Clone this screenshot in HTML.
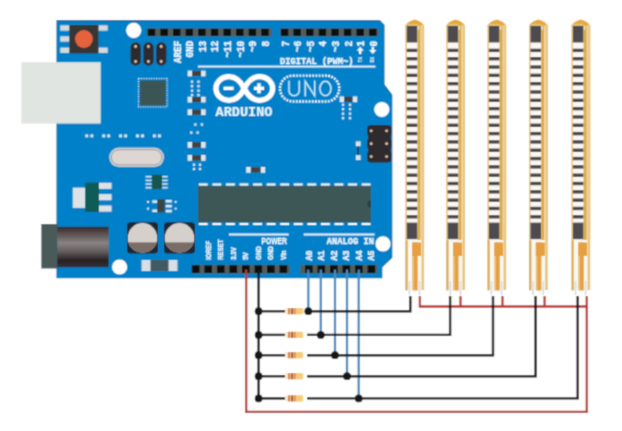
<!DOCTYPE html>
<html><head><meta charset="utf-8"><style>
html,body{margin:0;padding:0;background:#fff;width:622px;height:431px;overflow:hidden}
svg{display:block}
</style></head><body>
<svg width="622" height="431" viewBox="0 0 622 431">
<defs><filter id="soft" x="-2%" y="-2%" width="104%" height="104%"><feConvolveMatrix order="3" kernelMatrix="0.0900 0.3000 0.0900 0.3000 1 0.3000 0.0900 0.3000 0.0900" divisor="2.5600" edgeMode="duplicate" preserveAlpha="true"/></filter></defs>
<rect width="622" height="431" fill="#ffffff"/>
<g filter="url(#soft)">
<rect x="-20" y="-20" width="662" height="471" fill="#ffffff"/>
<path d="M57,20.5 L379.5,20.5 L384,25 L384,84.6 L391.8,94.9 L391.8,257.5 L381.8,267 L381.8,277.8 L57,277.8 Z" fill="#0080c8" stroke="#0d6aa5" stroke-width="1.1"/>
<rect x="21.4" y="62.2" width="79.3" height="61.4" fill="#e0e5e2"/>
<rect x="60.2" y="25.3" width="9.4" height="5.4" fill="#d3dade"/>
<rect x="60.2" y="36.3" width="9.4" height="5.4" fill="#d3dade"/>
<rect x="60.2" y="47.5" width="9.4" height="5.4" fill="#d3dade"/>
<rect x="98.3" y="25.3" width="9.4" height="5.4" fill="#d3dade"/>
<rect x="98.3" y="47.5" width="9.4" height="5.4" fill="#d3dade"/>
<rect x="69.4" y="25" width="29" height="28.4" fill="#383535"/>
<circle cx="83.9" cy="39" r="8.9" fill="#e4623c"/>
<circle cx="133.7" cy="30.3" r="7.6" fill="#ffffff"/>
<circle cx="381.8" cy="109.5" r="7.6" fill="#ffffff"/>
<circle cx="383" cy="243.8" r="7.6" fill="#ffffff"/>
<circle cx="119.6" cy="267" r="7.6" fill="#ffffff"/>
<rect x="130.6" y="42.6" width="10.2" height="22.8" rx="4.5" fill="#2e2a2e"/>
<circle cx="135.6" cy="46.5" r="1.4" fill="#e2c4a4"/>
<circle cx="135.6" cy="61.5" r="1.4" fill="#e2c4a4"/>
<rect x="143.4" y="42.6" width="10.2" height="22.8" rx="4.5" fill="#2e2a2e"/>
<circle cx="148.4" cy="46.5" r="1.4" fill="#e2c4a4"/>
<circle cx="148.4" cy="61.5" r="1.4" fill="#e2c4a4"/>
<rect x="156.2" y="42.6" width="10.2" height="22.8" rx="4.5" fill="#2e2a2e"/>
<circle cx="161.2" cy="46.5" r="1.4" fill="#e2c4a4"/>
<circle cx="161.2" cy="61.5" r="1.4" fill="#e2c4a4"/>
<rect x="368" y="127.5" width="22.6" height="33" fill="#2e2a2e"/>
<rect x="367.2" y="124.90" width="24.2" height="11.8" rx="3.5" fill="#2e2a2e"/>
<circle cx="371.2" cy="130.80" r="1.4" fill="#e2c4a4"/>
<circle cx="386.6" cy="130.80" r="1.4" fill="#e2c4a4"/>
<rect x="367.2" y="137.80" width="24.2" height="11.8" rx="3.5" fill="#2e2a2e"/>
<circle cx="371.2" cy="143.70" r="1.4" fill="#e2c4a4"/>
<circle cx="386.6" cy="143.70" r="1.4" fill="#e2c4a4"/>
<rect x="367.2" y="150.70" width="24.2" height="11.8" rx="3.5" fill="#2e2a2e"/>
<circle cx="371.2" cy="156.60" r="1.4" fill="#e2c4a4"/>
<circle cx="386.6" cy="156.60" r="1.4" fill="#e2c4a4"/>
<rect x="357.4" y="146" width="1.4" height="9.5" fill="#243040"/>
<rect x="146.7" y="28.2" width="125" height="8.2" fill="#525d5c"/>
<rect x="147.80" y="28.8" width="7.4" height="7" fill="#0a0a0c"/>
<rect x="160.41" y="28.8" width="7.4" height="7" fill="#0a0a0c"/>
<rect x="173.02" y="28.8" width="7.4" height="7" fill="#0a0a0c"/>
<rect x="185.63" y="28.8" width="7.4" height="7" fill="#0a0a0c"/>
<rect x="198.24" y="28.8" width="7.4" height="7" fill="#0a0a0c"/>
<rect x="210.85" y="28.8" width="7.4" height="7" fill="#0a0a0c"/>
<rect x="223.46" y="28.8" width="7.4" height="7" fill="#0a0a0c"/>
<rect x="236.07" y="28.8" width="7.4" height="7" fill="#0a0a0c"/>
<rect x="248.68" y="28.8" width="7.4" height="7" fill="#0a0a0c"/>
<rect x="261.29" y="28.8" width="7.4" height="7" fill="#0a0a0c"/>
<rect x="280.2" y="28.2" width="98.2" height="8.2" fill="#525d5c"/>
<rect x="280.90" y="28.8" width="7.4" height="7" fill="#0a0a0c"/>
<rect x="293.50" y="28.8" width="7.4" height="7" fill="#0a0a0c"/>
<rect x="306.10" y="28.8" width="7.4" height="7" fill="#0a0a0c"/>
<rect x="318.70" y="28.8" width="7.4" height="7" fill="#0a0a0c"/>
<rect x="331.30" y="28.8" width="7.4" height="7" fill="#0a0a0c"/>
<rect x="343.90" y="28.8" width="7.4" height="7" fill="#0a0a0c"/>
<rect x="356.50" y="28.8" width="7.4" height="7" fill="#0a0a0c"/>
<rect x="369.10" y="28.8" width="7.4" height="7" fill="#0a0a0c"/>
<rect x="191.5" y="264.8" width="98.2" height="8.8" fill="#525d5c"/>
<rect x="191.90" y="265.3" width="7.6" height="7.6" fill="#0a0a0c"/>
<rect x="204.43" y="265.3" width="7.6" height="7.6" fill="#0a0a0c"/>
<rect x="216.96" y="265.3" width="7.6" height="7.6" fill="#0a0a0c"/>
<rect x="229.49" y="265.3" width="7.6" height="7.6" fill="#0a0a0c"/>
<rect x="242.02" y="265.3" width="7.6" height="7.6" fill="#0a0a0c"/>
<rect x="254.55" y="265.3" width="7.6" height="7.6" fill="#0a0a0c"/>
<rect x="267.08" y="265.3" width="7.6" height="7.6" fill="#0a0a0c"/>
<rect x="279.61" y="265.3" width="7.6" height="7.6" fill="#0a0a0c"/>
<rect x="300.4" y="264.8" width="77" height="8.8" fill="#525d5c"/>
<rect x="305.00" y="265.3" width="7.6" height="7.6" fill="#0a0a0c"/>
<rect x="317.52" y="265.3" width="7.6" height="7.6" fill="#0a0a0c"/>
<rect x="330.04" y="265.3" width="7.6" height="7.6" fill="#0a0a0c"/>
<rect x="342.56" y="265.3" width="7.6" height="7.6" fill="#0a0a0c"/>
<rect x="355.08" y="265.3" width="7.6" height="7.6" fill="#0a0a0c"/>
<rect x="367.60" y="265.3" width="7.6" height="7.6" fill="#0a0a0c"/>
<rect x="140" y="80.5" width="25.7" height="25" fill="#3b5454"/>
<rect x="138.5" y="78.6" width="28.6" height="28.2" fill="none" stroke="#bfe0f0" stroke-width="1.2" stroke-dasharray="1.3,1.2"/>
<rect x="198" y="185.8" width="172.9" height="36.6" fill="#3c5757"/>
<path d="M370.9,200.5 A3.5,3.5 0 0 0 370.9,207.5 Z" fill="#2f3c3c"/>
<rect x="198.80" y="183.4" width="8.9" height="2.2" fill="#f4f8fa"/>
<rect x="198.80" y="222.9" width="8.9" height="2.2" fill="#f4f8fa"/>
<rect x="212.37" y="183.4" width="8.9" height="2.2" fill="#f4f8fa"/>
<rect x="212.37" y="222.9" width="8.9" height="2.2" fill="#f4f8fa"/>
<rect x="225.94" y="183.4" width="8.9" height="2.2" fill="#f4f8fa"/>
<rect x="225.94" y="222.9" width="8.9" height="2.2" fill="#f4f8fa"/>
<rect x="239.51" y="183.4" width="8.9" height="2.2" fill="#f4f8fa"/>
<rect x="239.51" y="222.9" width="8.9" height="2.2" fill="#f4f8fa"/>
<rect x="253.08" y="183.4" width="8.9" height="2.2" fill="#f4f8fa"/>
<rect x="253.08" y="222.9" width="8.9" height="2.2" fill="#f4f8fa"/>
<rect x="266.65" y="183.4" width="8.9" height="2.2" fill="#f4f8fa"/>
<rect x="266.65" y="222.9" width="8.9" height="2.2" fill="#f4f8fa"/>
<rect x="280.22" y="183.4" width="8.9" height="2.2" fill="#f4f8fa"/>
<rect x="280.22" y="222.9" width="8.9" height="2.2" fill="#f4f8fa"/>
<rect x="293.79" y="183.4" width="8.9" height="2.2" fill="#f4f8fa"/>
<rect x="293.79" y="222.9" width="8.9" height="2.2" fill="#f4f8fa"/>
<rect x="307.36" y="183.4" width="8.9" height="2.2" fill="#f4f8fa"/>
<rect x="307.36" y="222.9" width="8.9" height="2.2" fill="#f4f8fa"/>
<rect x="320.93" y="183.4" width="8.9" height="2.2" fill="#f4f8fa"/>
<rect x="320.93" y="222.9" width="8.9" height="2.2" fill="#f4f8fa"/>
<rect x="334.50" y="183.4" width="8.9" height="2.2" fill="#f4f8fa"/>
<rect x="334.50" y="222.9" width="8.9" height="2.2" fill="#f4f8fa"/>
<rect x="348.07" y="183.4" width="8.9" height="2.2" fill="#f4f8fa"/>
<rect x="348.07" y="222.9" width="8.9" height="2.2" fill="#f4f8fa"/>
<rect x="361.64" y="183.4" width="8.9" height="2.2" fill="#f4f8fa"/>
<rect x="361.64" y="222.9" width="8.9" height="2.2" fill="#f4f8fa"/>
<rect x="109.2" y="147.6" width="54.8" height="19.4" rx="9.7" fill="#c9d0d4"/>
<rect x="111.3" y="149.7" width="50.6" height="15.2" rx="7.6" fill="#ddd6d2" stroke="#9c9ca4" stroke-width="1"/>
<rect x="72.7" y="187.6" width="12.5" height="20.3" fill="#dce2e6"/>
<rect x="85.2" y="182.7" width="13.8" height="29.3" fill="#0f5b58"/>
<rect x="99" y="182.7" width="12.6" height="6.2" fill="#dce2e6"/>
<rect x="99" y="194.1" width="12.6" height="6.2" fill="#dce2e6"/>
<rect x="99" y="205.5" width="12.6" height="6.2" fill="#dce2e6"/>
<rect x="151.7" y="174.8" width="10.4" height="14.2" fill="#18564f"/>
<rect x="145.5" y="175.9" width="6.2" height="1.6" fill="#cfe3ee"/>
<rect x="162.1" y="175.9" width="5.6" height="1.6" fill="#cfe3ee"/>
<rect x="145.5" y="179.6" width="6.2" height="1.6" fill="#cfe3ee"/>
<rect x="162.1" y="179.6" width="5.6" height="1.6" fill="#cfe3ee"/>
<rect x="145.5" y="183.2" width="6.2" height="1.6" fill="#cfe3ee"/>
<rect x="162.1" y="183.2" width="5.6" height="1.6" fill="#cfe3ee"/>
<rect x="145.5" y="186.9" width="6.2" height="1.6" fill="#cfe3ee"/>
<rect x="162.1" y="186.9" width="5.6" height="1.6" fill="#cfe3ee"/>
<rect x="157.2" y="199.4" width="7.4" height="12.9" fill="#3e4242"/>
<rect x="152.3" y="200.3" width="4.9" height="2.6" fill="#dbeaf3"/>
<rect x="152.3" y="209.5" width="4.9" height="2.6" fill="#dbeaf3"/>
<rect x="165.6" y="199.9" width="6.2" height="2.6" fill="#dbeaf3"/>
<rect x="165.6" y="204.9" width="6.2" height="2.6" fill="#dbeaf3"/>
<rect x="165.6" y="209.8" width="6.2" height="2.6" fill="#dbeaf3"/>
<rect x="147" y="200.9" width="2" height="2" fill="#cfe6f3"/>
<rect x="147" y="207.6" width="2" height="2" fill="#cfe6f3"/>
<rect x="174.6" y="200.9" width="2" height="2" fill="#cfe6f3"/>
<rect x="174.6" y="207.6" width="2" height="2" fill="#cfe6f3"/>
<rect x="127.0" y="222.3" width="31" height="31.2" rx="3.5" fill="#1c2634"/>
<clipPath id="c142"><circle cx="142.5" cy="237.9" r="14.8"/></clipPath>
<g clip-path="url(#c142)"><rect x="127.5" y="222" width="30" height="31" fill="#d6d0cc"/><rect x="127.5" y="242.4" width="30" height="12" fill="#7a6d66"/></g>
<rect x="164.0" y="222.3" width="31" height="31.2" rx="3.5" fill="#1c2634"/>
<clipPath id="c179"><circle cx="179.5" cy="237.9" r="14.8"/></clipPath>
<g clip-path="url(#c179)"><rect x="164.5" y="222" width="30" height="31" fill="#d6d0cc"/><rect x="164.5" y="242.4" width="30" height="12" fill="#7a6d66"/></g>
<rect x="41.3" y="224" width="16" height="44.5" fill="#4a5a58"/>
<defs><linearGradient id="jack" x1="0" y1="0" x2="0" y2="1"><stop offset="0" stop-color="#2a2c34"/><stop offset="0.08" stop-color="#4a3a3a"/><stop offset="0.4" stop-color="#878383"/><stop offset="0.6" stop-color="#666060"/><stop offset="0.83" stop-color="#2a2020"/><stop offset="1" stop-color="#33303a"/></linearGradient></defs>
<rect x="57.3" y="226.8" width="51.4" height="40.4" fill="url(#jack)"/>
<rect x="141.5" y="260" width="36" height="11" fill="#3f5a5f"/>
<rect x="141.5" y="260" width="9" height="11" fill="#d6e0e6"/>
<rect x="168.5" y="260" width="9" height="11" fill="#d6e0e6"/>
<rect x="85.3" y="134.4" width="3" height="3" fill="#cfe6f3"/>
<rect x="90.3" y="134.4" width="3" height="3" fill="#cfe6f3"/>
<rect x="102.2" y="134.4" width="3" height="3" fill="#cfe6f3"/>
<rect x="107.2" y="134.4" width="3" height="3" fill="#cfe6f3"/>
<rect x="119.1" y="134.4" width="3" height="3" fill="#cfe6f3"/>
<rect x="124.1" y="134.4" width="3" height="3" fill="#cfe6f3"/>
<rect x="136.0" y="134.4" width="3" height="3" fill="#cfe6f3"/>
<rect x="141.0" y="134.4" width="3" height="3" fill="#cfe6f3"/>
<rect x="152.9" y="134.4" width="3" height="3" fill="#cfe6f3"/>
<rect x="157.9" y="134.4" width="3" height="3" fill="#cfe6f3"/>
<rect x="192.1" y="71.0" width="9.0" height="5.0" fill="#45413e"/>
<rect x="187.6" y="70.6" width="4.5" height="5.8" fill="#dde8ee"/>
<rect x="201.1" y="70.6" width="4.5" height="5.8" fill="#dde8ee"/>
<rect x="192.1" y="97.1" width="9.0" height="5.0" fill="#45413e"/>
<rect x="187.6" y="96.69999999999999" width="4.5" height="5.8" fill="#dde8ee"/>
<rect x="201.1" y="96.69999999999999" width="4.5" height="5.8" fill="#dde8ee"/>
<rect x="192.1" y="109.7" width="9.0" height="5.0" fill="#45413e"/>
<rect x="187.6" y="109.3" width="4.5" height="5.8" fill="#dde8ee"/>
<rect x="201.1" y="109.3" width="4.5" height="5.8" fill="#dde8ee"/>
<rect x="192.1" y="142.4" width="9.0" height="5.0" fill="#45413e"/>
<rect x="187.6" y="142.0" width="4.5" height="5.8" fill="#dde8ee"/>
<rect x="201.1" y="142.0" width="4.5" height="5.8" fill="#dde8ee"/>
<rect x="192.1" y="155.4" width="9.0" height="5.0" fill="#45413e"/>
<rect x="187.6" y="155.0" width="4.5" height="5.8" fill="#dde8ee"/>
<rect x="201.1" y="155.0" width="4.5" height="5.8" fill="#dde8ee"/>
<rect x="250.7" y="167.4" width="10.0" height="5.0" fill="#45413e"/>
<rect x="246.2" y="167.0" width="4.5" height="5.8" fill="#dde8ee"/>
<rect x="260.7" y="167.0" width="4.5" height="5.8" fill="#dde8ee"/>
<rect x="344.1" y="96.8" width="8.600000000000001" height="5.0" fill="#45413e"/>
<rect x="339.6" y="96.39999999999999" width="4.5" height="5.8" fill="#dde8ee"/>
<rect x="352.70000000000005" y="96.39999999999999" width="4.5" height="5.8" fill="#dde8ee"/>
<rect x="355.8" y="141.4" width="4.8" height="4.8" fill="#dde6ea"/>
<rect x="355.8" y="155.2" width="4.8" height="4.8" fill="#dde6ea"/>
<rect x="194.20000000000002" y="123.3" width="2.4" height="2.4" fill="#cfe6f3"/>
<rect x="200.70000000000002" y="123.3" width="2.4" height="2.4" fill="#cfe6f3"/>
<rect x="190.10000000000002" y="131.4" width="2.4" height="2.4" fill="#cfe6f3"/>
<rect x="196.4" y="131.4" width="2.4" height="2.4" fill="#cfe6f3"/>
<rect x="192.8" y="163.5" width="2.4" height="2.4" fill="#cfe6f3"/>
<rect x="198.8" y="163.5" width="2.4" height="2.4" fill="#cfe6f3"/>
<rect x="192.8" y="167.8" width="2.4" height="2.4" fill="#cfe6f3"/>
<rect x="198.8" y="167.8" width="2.4" height="2.4" fill="#cfe6f3"/>
<rect x="190.8" y="80.5" width="2.4" height="2.4" fill="#cfe6f3"/><rect x="197.3" y="80.5" width="2.4" height="2.4" fill="#cfe6f3"/>
<rect x="190.8" y="85" width="2.4" height="2.4" fill="#cfe6f3"/><rect x="197.3" y="85" width="2.4" height="2.4" fill="#cfe6f3"/>
<rect x="190.8" y="89.5" width="2.4" height="2.4" fill="#cfe6f3"/><rect x="197.3" y="89.5" width="2.4" height="2.4" fill="#cfe6f3"/>
<rect x="190.8" y="94" width="2.4" height="2.4" fill="#cfe6f3"/><rect x="197.3" y="94" width="2.4" height="2.4" fill="#cfe6f3"/>
<rect x="341.8" y="103.5" width="2.4" height="2.4" fill="#cfe6f3"/><rect x="348.8" y="103.5" width="2.4" height="2.4" fill="#cfe6f3"/>
<rect x="341.8" y="108" width="2.4" height="2.4" fill="#cfe6f3"/><rect x="348.8" y="108" width="2.4" height="2.4" fill="#cfe6f3"/>
<rect x="341.8" y="112.5" width="2.4" height="2.4" fill="#cfe6f3"/><rect x="348.8" y="112.5" width="2.4" height="2.4" fill="#cfe6f3"/>
<rect x="341.8" y="117" width="2.4" height="2.4" fill="#cfe6f3"/><rect x="348.8" y="117" width="2.4" height="2.4" fill="#cfe6f3"/>
<rect x="198" y="65.6" width="177.5" height="1.9" fill="#e6f3fb"/>
<rect x="229" y="233.5" width="59.7" height="2" fill="#e6f3fb"/>
<rect x="303.6" y="233.5" width="71" height="2" fill="#e6f3fb"/>
<path d="M244.3,88.5 C241.8,83.5 236.5,76.7 228.9,76.7 A13,11.8 0 0 0 228.9,100.3 C236.5,100.3 241.8,93.5 244.3,88.5 C246.8,83.5 252.1,76.7 259.7,76.7 A13,11.8 0 0 1 259.7,100.3 C252.1,100.3 246.8,93.5 244.3,88.5 Z" fill="none" stroke="#ffffff" stroke-width="5.2"/>
<rect x="223.5" y="86.6" width="10.1" height="3.4" fill="#ffffff"/>
<rect x="254" y="86.6" width="10" height="3.4" fill="#ffffff"/>
<rect x="257.3" y="83.3" width="3.4" height="10" fill="#ffffff"/>
<text x="215.6" y="116.2" font-family="Liberation Mono" font-weight="bold" font-size="13" fill="#e8f7fd" stroke="#e8f7fd" stroke-width="0.15" textLength="56.8" lengthAdjust="spacingAndGlyphs">ARDUINO</text>
<rect x="280" y="75.6" width="59.3" height="25.9" rx="12.95" fill="none" stroke="#e6f6fd" stroke-width="2.4" stroke-dasharray="2,1.2"/>
<path d="M289,80.6 V90.7 A5.1,5.1 0 0 0 299.2,90.7 V80.6 M305.2,96.5 V81.3 L314.7,95.8 V80.6" fill="none" stroke="#c8ecfc" stroke-width="1.5"/>
<ellipse cx="325.4" cy="88.55" rx="5.55" ry="7.2" fill="none" stroke="#c8ecfc" stroke-width="1.5"/>
<text x="280" y="63.8" font-family="Liberation Mono" font-weight="bold" font-size="9.6" fill="#eef8fd" stroke="#eef8fd" stroke-width="0.35" textLength="73.6" lengthAdjust="spacingAndGlyphs">DIGITAL (PWM~)</text>
<text x="326.8" y="244.2" font-family="Liberation Mono" font-weight="bold" font-size="9.6" fill="#eef8fd" stroke="#eef8fd" stroke-width="0.35" textLength="47.2" lengthAdjust="spacingAndGlyphs">ANALOG IN</text>
<text x="261.5" y="244.3" font-family="Liberation Sans" font-weight="bold" font-size="9" fill="#eef8fd" stroke="#eef8fd" stroke-width="0.3" textLength="25.3" lengthAdjust="spacingAndGlyphs">POWER</text>
<text transform="translate(180.62,40.8) rotate(-90) scale(0.93,1)" text-anchor="end" font-family="Liberation Mono" font-weight="bold" font-size="10" fill="#eef8fd" stroke="#eef8fd" stroke-width="0.35">AREF</text>
<text transform="translate(193.23,40.8) rotate(-90) scale(0.93,1)" text-anchor="end" font-family="Liberation Mono" font-weight="bold" font-size="10" fill="#eef8fd" stroke="#eef8fd" stroke-width="0.35">GND</text>
<text transform="translate(205.84,40.8) rotate(-90) scale(0.93,1)" text-anchor="end" font-family="Liberation Mono" font-weight="bold" font-size="10" fill="#eef8fd" stroke="#eef8fd" stroke-width="0.35">13</text>
<text transform="translate(218.45,40.8) rotate(-90) scale(0.93,1)" text-anchor="end" font-family="Liberation Mono" font-weight="bold" font-size="10" fill="#eef8fd" stroke="#eef8fd" stroke-width="0.35">12</text>
<text transform="translate(231.06,40.8) rotate(-90) scale(0.93,1)" text-anchor="end" font-family="Liberation Mono" font-weight="bold" font-size="10" fill="#eef8fd" stroke="#eef8fd" stroke-width="0.35">~11</text>
<text transform="translate(243.67,40.8) rotate(-90) scale(0.93,1)" text-anchor="end" font-family="Liberation Mono" font-weight="bold" font-size="10" fill="#eef8fd" stroke="#eef8fd" stroke-width="0.35">~10</text>
<text transform="translate(256.28,40.8) rotate(-90) scale(0.93,1)" text-anchor="end" font-family="Liberation Mono" font-weight="bold" font-size="10" fill="#eef8fd" stroke="#eef8fd" stroke-width="0.35">~9</text>
<text transform="translate(268.89,40.8) rotate(-90) scale(0.93,1)" text-anchor="end" font-family="Liberation Mono" font-weight="bold" font-size="10" fill="#eef8fd" stroke="#eef8fd" stroke-width="0.35">8</text>
<text transform="translate(288.50,40.8) rotate(-90) scale(0.93,1)" text-anchor="end" font-family="Liberation Mono" font-weight="bold" font-size="10" fill="#eef8fd" stroke="#eef8fd" stroke-width="0.35">7</text>
<text transform="translate(301.10,40.8) rotate(-90) scale(0.93,1)" text-anchor="end" font-family="Liberation Mono" font-weight="bold" font-size="10" fill="#eef8fd" stroke="#eef8fd" stroke-width="0.35">~6</text>
<text transform="translate(313.70,40.8) rotate(-90) scale(0.93,1)" text-anchor="end" font-family="Liberation Mono" font-weight="bold" font-size="10" fill="#eef8fd" stroke="#eef8fd" stroke-width="0.35">~5</text>
<text transform="translate(326.30,40.8) rotate(-90) scale(0.93,1)" text-anchor="end" font-family="Liberation Mono" font-weight="bold" font-size="10" fill="#eef8fd" stroke="#eef8fd" stroke-width="0.35">4</text>
<text transform="translate(338.90,40.8) rotate(-90) scale(0.93,1)" text-anchor="end" font-family="Liberation Mono" font-weight="bold" font-size="10" fill="#eef8fd" stroke="#eef8fd" stroke-width="0.35">~3</text>
<text transform="translate(351.50,40.8) rotate(-90) scale(0.93,1)" text-anchor="end" font-family="Liberation Mono" font-weight="bold" font-size="10" fill="#eef8fd" stroke="#eef8fd" stroke-width="0.35">2</text>
<text transform="translate(364.10,40.8) rotate(-90) scale(0.93,1)" text-anchor="end" font-family="Liberation Mono" font-weight="bold" font-size="10" fill="#eef8fd" stroke="#eef8fd" stroke-width="0.35">1</text>
<path d="M360.20000000000005,46.8 L356.6,50.8 L359.00000000000006,50.8 L359.00000000000006,54 L361.40000000000003,54 L361.40000000000003,50.8 L363.80000000000007,50.8 Z" fill="#eef8fd"/>
<text transform="translate(361.80,62.5) rotate(-90)" text-anchor="start" font-family="Liberation Mono" font-weight="bold" font-size="4.5" fill="#eef8fd">TX</text>
<text transform="translate(376.70,40.8) rotate(-90) scale(0.93,1)" text-anchor="end" font-family="Liberation Mono" font-weight="bold" font-size="10" fill="#eef8fd" stroke="#eef8fd" stroke-width="0.35">0</text>
<path d="M372.8,54 L369.2,50 L371.6,50 L371.6,46.8 L374.0,46.8 L374.0,50 L376.40000000000003,50 Z" fill="#eef8fd"/>
<text transform="translate(374.40,62.5) rotate(-90)" text-anchor="start" font-family="Liberation Mono" font-weight="bold" font-size="4.5" fill="#eef8fd">RX</text>
<text transform="translate(210.83,259.8) rotate(-90) scale(0.85,1)" text-anchor="start" font-family="Liberation Sans" font-weight="bold" font-size="7.2" fill="#eef8fd" stroke="#eef8fd" stroke-width="0.35">IOREF</text>
<text transform="translate(223.36,259.8) rotate(-90) scale(0.85,1)" text-anchor="start" font-family="Liberation Sans" font-weight="bold" font-size="7.2" fill="#eef8fd" stroke="#eef8fd" stroke-width="0.35">RESET</text>
<text transform="translate(235.89,259.8) rotate(-90) scale(0.85,1)" text-anchor="start" font-family="Liberation Sans" font-weight="bold" font-size="7.2" fill="#eef8fd" stroke="#eef8fd" stroke-width="0.35">3.3V</text>
<text transform="translate(248.42,259.8) rotate(-90) scale(0.85,1)" text-anchor="start" font-family="Liberation Sans" font-weight="bold" font-size="7.2" fill="#eef8fd" stroke="#eef8fd" stroke-width="0.35">5V</text>
<text transform="translate(260.95,259.8) rotate(-90) scale(0.85,1)" text-anchor="start" font-family="Liberation Sans" font-weight="bold" font-size="7.2" fill="#eef8fd" stroke="#eef8fd" stroke-width="0.35">GND</text>
<text transform="translate(273.48,259.8) rotate(-90) scale(0.85,1)" text-anchor="start" font-family="Liberation Sans" font-weight="bold" font-size="7.2" fill="#eef8fd" stroke="#eef8fd" stroke-width="0.35">GND</text>
<text transform="translate(286.01,259.8) rotate(-90) scale(0.85,1)" text-anchor="start" font-family="Liberation Sans" font-weight="bold" font-size="7.2" fill="#eef8fd" stroke="#eef8fd" stroke-width="0.35">Vin</text>
<text transform="translate(311.80,260.4) rotate(-90) scale(0.95,1)" text-anchor="start" font-family="Liberation Mono" font-weight="bold" font-size="8.8" fill="#eef8fd" stroke="#eef8fd" stroke-width="0.35">A0</text>
<text transform="translate(324.32,260.4) rotate(-90) scale(0.95,1)" text-anchor="start" font-family="Liberation Mono" font-weight="bold" font-size="8.8" fill="#eef8fd" stroke="#eef8fd" stroke-width="0.35">A1</text>
<text transform="translate(336.84,260.4) rotate(-90) scale(0.95,1)" text-anchor="start" font-family="Liberation Mono" font-weight="bold" font-size="8.8" fill="#eef8fd" stroke="#eef8fd" stroke-width="0.35">A2</text>
<text transform="translate(349.36,260.4) rotate(-90) scale(0.95,1)" text-anchor="start" font-family="Liberation Mono" font-weight="bold" font-size="8.8" fill="#eef8fd" stroke="#eef8fd" stroke-width="0.35">A3</text>
<text transform="translate(361.88,260.4) rotate(-90) scale(0.95,1)" text-anchor="start" font-family="Liberation Mono" font-weight="bold" font-size="8.8" fill="#eef8fd" stroke="#eef8fd" stroke-width="0.35">A4</text>
<text transform="translate(374.40,260.4) rotate(-90) scale(0.95,1)" text-anchor="start" font-family="Liberation Mono" font-weight="bold" font-size="8.8" fill="#eef8fd" stroke="#eef8fd" stroke-width="0.35">A5</text>
<rect x="405.3" y="24" width="18.8" height="266.5" fill="#fbf7f2"/>
<path d="M405.5,26.5 C405.7,22.8 410.7,20.8 414.7,19.6 C418.7,20.8 423.70000000000005,22.8 423.90000000000003,26.5 Z" fill="#e4aa36"/>
<rect x="406.90000000000003" y="24.6" width="10.5" height="1" fill="#f6e8cc"/>
<rect x="405.3" y="25" width="1.5" height="215" fill="#ebc478"/>
<rect x="406.7" y="25.8" width="10.8" height="16.7" fill="#4e4c50"/>
<rect x="406.7" y="48.70" width="10.8" height="3.4" fill="#46444a"/>
<rect x="406.7" y="57.02" width="10.8" height="3.4" fill="#46444a"/>
<rect x="406.7" y="65.34" width="10.8" height="3.4" fill="#46444a"/>
<rect x="406.7" y="73.66" width="10.8" height="3.4" fill="#46444a"/>
<rect x="406.7" y="81.98" width="10.8" height="3.4" fill="#46444a"/>
<rect x="406.7" y="90.30" width="10.8" height="3.4" fill="#46444a"/>
<rect x="406.7" y="98.62" width="10.8" height="3.4" fill="#46444a"/>
<rect x="406.7" y="106.94" width="10.8" height="3.4" fill="#46444a"/>
<rect x="406.7" y="115.26" width="10.8" height="3.4" fill="#46444a"/>
<rect x="406.7" y="123.58" width="10.8" height="3.4" fill="#46444a"/>
<rect x="406.7" y="131.90" width="10.8" height="3.4" fill="#46444a"/>
<rect x="406.7" y="140.22" width="10.8" height="3.4" fill="#46444a"/>
<rect x="406.7" y="148.54" width="10.8" height="3.4" fill="#46444a"/>
<rect x="406.7" y="156.86" width="10.8" height="3.4" fill="#46444a"/>
<rect x="406.7" y="165.18" width="10.8" height="3.4" fill="#46444a"/>
<rect x="406.7" y="173.50" width="10.8" height="3.4" fill="#46444a"/>
<rect x="406.7" y="181.82" width="10.8" height="3.4" fill="#46444a"/>
<rect x="406.7" y="190.14" width="10.8" height="3.4" fill="#46444a"/>
<rect x="406.7" y="198.46" width="10.8" height="3.4" fill="#46444a"/>
<rect x="406.7" y="206.78" width="10.8" height="3.4" fill="#46444a"/>
<rect x="406.7" y="215.10" width="10.8" height="3.4" fill="#46444a"/>
<rect x="406.7" y="222.6" width="10.8" height="16.6" fill="#4e4c50"/>
<rect x="417.5" y="25" width="3.2" height="215" fill="#d9ac4c"/>
<rect x="417.7" y="25.6" width="1.4" height="4" fill="#f5e6c8"/>
<rect x="420.7" y="25" width="3.4000000000000004" height="215" fill="#f3d29c"/>
<rect x="422.6" y="25" width="1.5" height="215" fill="#e8c070"/>
<rect x="405.3" y="240" width="2.4" height="50.5" rx="0.8" fill="#d9ad55"/>
<rect x="412.1" y="242.5" width="1.4" height="48" fill="#e9c070"/>
<rect x="412.1" y="242.5" width="9" height="13.5" fill="#e6a040"/>
<rect x="413.5" y="242.5" width="4.2" height="48" fill="#e6a040"/>
<rect x="421.5" y="240" width="2.6000000000000014" height="50" fill="#e9c57a"/>
<rect x="408.5" y="281" width="1.8" height="14" fill="#dcdee6"/>
<rect x="418.6" y="281" width="1.8" height="14" fill="#dcdee6"/>
<rect x="446.2" y="24" width="18.8" height="266.5" fill="#fbf7f2"/>
<path d="M446.4,26.5 C446.59999999999997,22.8 451.59999999999997,20.8 455.59999999999997,19.6 C459.59999999999997,20.8 464.6,22.8 464.8,26.5 Z" fill="#e4aa36"/>
<rect x="447.8" y="24.6" width="10.5" height="1" fill="#f6e8cc"/>
<rect x="446.2" y="25" width="1.5" height="215" fill="#ebc478"/>
<rect x="447.59999999999997" y="25.8" width="10.8" height="16.7" fill="#4e4c50"/>
<rect x="447.59999999999997" y="48.70" width="10.8" height="3.4" fill="#46444a"/>
<rect x="447.59999999999997" y="57.02" width="10.8" height="3.4" fill="#46444a"/>
<rect x="447.59999999999997" y="65.34" width="10.8" height="3.4" fill="#46444a"/>
<rect x="447.59999999999997" y="73.66" width="10.8" height="3.4" fill="#46444a"/>
<rect x="447.59999999999997" y="81.98" width="10.8" height="3.4" fill="#46444a"/>
<rect x="447.59999999999997" y="90.30" width="10.8" height="3.4" fill="#46444a"/>
<rect x="447.59999999999997" y="98.62" width="10.8" height="3.4" fill="#46444a"/>
<rect x="447.59999999999997" y="106.94" width="10.8" height="3.4" fill="#46444a"/>
<rect x="447.59999999999997" y="115.26" width="10.8" height="3.4" fill="#46444a"/>
<rect x="447.59999999999997" y="123.58" width="10.8" height="3.4" fill="#46444a"/>
<rect x="447.59999999999997" y="131.90" width="10.8" height="3.4" fill="#46444a"/>
<rect x="447.59999999999997" y="140.22" width="10.8" height="3.4" fill="#46444a"/>
<rect x="447.59999999999997" y="148.54" width="10.8" height="3.4" fill="#46444a"/>
<rect x="447.59999999999997" y="156.86" width="10.8" height="3.4" fill="#46444a"/>
<rect x="447.59999999999997" y="165.18" width="10.8" height="3.4" fill="#46444a"/>
<rect x="447.59999999999997" y="173.50" width="10.8" height="3.4" fill="#46444a"/>
<rect x="447.59999999999997" y="181.82" width="10.8" height="3.4" fill="#46444a"/>
<rect x="447.59999999999997" y="190.14" width="10.8" height="3.4" fill="#46444a"/>
<rect x="447.59999999999997" y="198.46" width="10.8" height="3.4" fill="#46444a"/>
<rect x="447.59999999999997" y="206.78" width="10.8" height="3.4" fill="#46444a"/>
<rect x="447.59999999999997" y="215.10" width="10.8" height="3.4" fill="#46444a"/>
<rect x="447.59999999999997" y="222.6" width="10.8" height="16.6" fill="#4e4c50"/>
<rect x="458.4" y="25" width="3.2" height="215" fill="#d9ac4c"/>
<rect x="458.59999999999997" y="25.6" width="1.4" height="4" fill="#f5e6c8"/>
<rect x="461.59999999999997" y="25" width="3.4000000000000004" height="215" fill="#f3d29c"/>
<rect x="463.5" y="25" width="1.5" height="215" fill="#e8c070"/>
<rect x="446.2" y="240" width="2.4" height="50.5" rx="0.8" fill="#d9ad55"/>
<rect x="453.0" y="242.5" width="1.4" height="48" fill="#e9c070"/>
<rect x="453.0" y="242.5" width="9" height="13.5" fill="#e6a040"/>
<rect x="454.4" y="242.5" width="4.2" height="48" fill="#e6a040"/>
<rect x="462.4" y="240" width="2.6000000000000014" height="50" fill="#e9c57a"/>
<rect x="449.4" y="281" width="1.8" height="14" fill="#dcdee6"/>
<rect x="459.5" y="281" width="1.8" height="14" fill="#dcdee6"/>
<rect x="487.4" y="24" width="18.8" height="266.5" fill="#fbf7f2"/>
<path d="M487.59999999999997,26.5 C487.79999999999995,22.8 492.79999999999995,20.8 496.79999999999995,19.6 C500.79999999999995,20.8 505.8,22.8 506.0,26.5 Z" fill="#e4aa36"/>
<rect x="489.0" y="24.6" width="10.5" height="1" fill="#f6e8cc"/>
<rect x="487.4" y="25" width="1.5" height="215" fill="#ebc478"/>
<rect x="488.79999999999995" y="25.8" width="10.8" height="16.7" fill="#4e4c50"/>
<rect x="488.79999999999995" y="48.70" width="10.8" height="3.4" fill="#46444a"/>
<rect x="488.79999999999995" y="57.02" width="10.8" height="3.4" fill="#46444a"/>
<rect x="488.79999999999995" y="65.34" width="10.8" height="3.4" fill="#46444a"/>
<rect x="488.79999999999995" y="73.66" width="10.8" height="3.4" fill="#46444a"/>
<rect x="488.79999999999995" y="81.98" width="10.8" height="3.4" fill="#46444a"/>
<rect x="488.79999999999995" y="90.30" width="10.8" height="3.4" fill="#46444a"/>
<rect x="488.79999999999995" y="98.62" width="10.8" height="3.4" fill="#46444a"/>
<rect x="488.79999999999995" y="106.94" width="10.8" height="3.4" fill="#46444a"/>
<rect x="488.79999999999995" y="115.26" width="10.8" height="3.4" fill="#46444a"/>
<rect x="488.79999999999995" y="123.58" width="10.8" height="3.4" fill="#46444a"/>
<rect x="488.79999999999995" y="131.90" width="10.8" height="3.4" fill="#46444a"/>
<rect x="488.79999999999995" y="140.22" width="10.8" height="3.4" fill="#46444a"/>
<rect x="488.79999999999995" y="148.54" width="10.8" height="3.4" fill="#46444a"/>
<rect x="488.79999999999995" y="156.86" width="10.8" height="3.4" fill="#46444a"/>
<rect x="488.79999999999995" y="165.18" width="10.8" height="3.4" fill="#46444a"/>
<rect x="488.79999999999995" y="173.50" width="10.8" height="3.4" fill="#46444a"/>
<rect x="488.79999999999995" y="181.82" width="10.8" height="3.4" fill="#46444a"/>
<rect x="488.79999999999995" y="190.14" width="10.8" height="3.4" fill="#46444a"/>
<rect x="488.79999999999995" y="198.46" width="10.8" height="3.4" fill="#46444a"/>
<rect x="488.79999999999995" y="206.78" width="10.8" height="3.4" fill="#46444a"/>
<rect x="488.79999999999995" y="215.10" width="10.8" height="3.4" fill="#46444a"/>
<rect x="488.79999999999995" y="222.6" width="10.8" height="16.6" fill="#4e4c50"/>
<rect x="499.59999999999997" y="25" width="3.2" height="215" fill="#d9ac4c"/>
<rect x="499.79999999999995" y="25.6" width="1.4" height="4" fill="#f5e6c8"/>
<rect x="502.79999999999995" y="25" width="3.4000000000000004" height="215" fill="#f3d29c"/>
<rect x="504.7" y="25" width="1.5" height="215" fill="#e8c070"/>
<rect x="487.4" y="240" width="2.4" height="50.5" rx="0.8" fill="#d9ad55"/>
<rect x="494.2" y="242.5" width="1.4" height="48" fill="#e9c070"/>
<rect x="494.2" y="242.5" width="9" height="13.5" fill="#e6a040"/>
<rect x="495.59999999999997" y="242.5" width="4.2" height="48" fill="#e6a040"/>
<rect x="503.59999999999997" y="240" width="2.6000000000000014" height="50" fill="#e9c57a"/>
<rect x="490.59999999999997" y="281" width="1.8" height="14" fill="#dcdee6"/>
<rect x="500.7" y="281" width="1.8" height="14" fill="#dcdee6"/>
<rect x="529.0" y="24" width="18.8" height="266.5" fill="#fbf7f2"/>
<path d="M529.2,26.5 C529.4,22.8 534.4,20.8 538.4,19.6 C542.4,20.8 547.4,22.8 547.5999999999999,26.5 Z" fill="#e4aa36"/>
<rect x="530.6" y="24.6" width="10.5" height="1" fill="#f6e8cc"/>
<rect x="529.0" y="25" width="1.5" height="215" fill="#ebc478"/>
<rect x="530.4" y="25.8" width="10.8" height="16.7" fill="#4e4c50"/>
<rect x="530.4" y="48.70" width="10.8" height="3.4" fill="#46444a"/>
<rect x="530.4" y="57.02" width="10.8" height="3.4" fill="#46444a"/>
<rect x="530.4" y="65.34" width="10.8" height="3.4" fill="#46444a"/>
<rect x="530.4" y="73.66" width="10.8" height="3.4" fill="#46444a"/>
<rect x="530.4" y="81.98" width="10.8" height="3.4" fill="#46444a"/>
<rect x="530.4" y="90.30" width="10.8" height="3.4" fill="#46444a"/>
<rect x="530.4" y="98.62" width="10.8" height="3.4" fill="#46444a"/>
<rect x="530.4" y="106.94" width="10.8" height="3.4" fill="#46444a"/>
<rect x="530.4" y="115.26" width="10.8" height="3.4" fill="#46444a"/>
<rect x="530.4" y="123.58" width="10.8" height="3.4" fill="#46444a"/>
<rect x="530.4" y="131.90" width="10.8" height="3.4" fill="#46444a"/>
<rect x="530.4" y="140.22" width="10.8" height="3.4" fill="#46444a"/>
<rect x="530.4" y="148.54" width="10.8" height="3.4" fill="#46444a"/>
<rect x="530.4" y="156.86" width="10.8" height="3.4" fill="#46444a"/>
<rect x="530.4" y="165.18" width="10.8" height="3.4" fill="#46444a"/>
<rect x="530.4" y="173.50" width="10.8" height="3.4" fill="#46444a"/>
<rect x="530.4" y="181.82" width="10.8" height="3.4" fill="#46444a"/>
<rect x="530.4" y="190.14" width="10.8" height="3.4" fill="#46444a"/>
<rect x="530.4" y="198.46" width="10.8" height="3.4" fill="#46444a"/>
<rect x="530.4" y="206.78" width="10.8" height="3.4" fill="#46444a"/>
<rect x="530.4" y="215.10" width="10.8" height="3.4" fill="#46444a"/>
<rect x="530.4" y="222.6" width="10.8" height="16.6" fill="#4e4c50"/>
<rect x="541.2" y="25" width="3.2" height="215" fill="#d9ac4c"/>
<rect x="541.4" y="25.6" width="1.4" height="4" fill="#f5e6c8"/>
<rect x="544.4" y="25" width="3.4000000000000004" height="215" fill="#f3d29c"/>
<rect x="546.3" y="25" width="1.5" height="215" fill="#e8c070"/>
<rect x="529.0" y="240" width="2.4" height="50.5" rx="0.8" fill="#d9ad55"/>
<rect x="535.8" y="242.5" width="1.4" height="48" fill="#e9c070"/>
<rect x="535.8" y="242.5" width="9" height="13.5" fill="#e6a040"/>
<rect x="537.2" y="242.5" width="4.2" height="48" fill="#e6a040"/>
<rect x="545.2" y="240" width="2.6000000000000014" height="50" fill="#e9c57a"/>
<rect x="532.2" y="281" width="1.8" height="14" fill="#dcdee6"/>
<rect x="542.3" y="281" width="1.8" height="14" fill="#dcdee6"/>
<rect x="571.4" y="24" width="18.8" height="266.5" fill="#fbf7f2"/>
<path d="M571.6,26.5 C571.8,22.8 576.8,20.8 580.8,19.6 C584.8,20.8 589.8,22.8 589.9999999999999,26.5 Z" fill="#e4aa36"/>
<rect x="573.0" y="24.6" width="10.5" height="1" fill="#f6e8cc"/>
<rect x="571.4" y="25" width="1.5" height="215" fill="#ebc478"/>
<rect x="572.8" y="25.8" width="10.8" height="16.7" fill="#4e4c50"/>
<rect x="572.8" y="48.70" width="10.8" height="3.4" fill="#46444a"/>
<rect x="572.8" y="57.02" width="10.8" height="3.4" fill="#46444a"/>
<rect x="572.8" y="65.34" width="10.8" height="3.4" fill="#46444a"/>
<rect x="572.8" y="73.66" width="10.8" height="3.4" fill="#46444a"/>
<rect x="572.8" y="81.98" width="10.8" height="3.4" fill="#46444a"/>
<rect x="572.8" y="90.30" width="10.8" height="3.4" fill="#46444a"/>
<rect x="572.8" y="98.62" width="10.8" height="3.4" fill="#46444a"/>
<rect x="572.8" y="106.94" width="10.8" height="3.4" fill="#46444a"/>
<rect x="572.8" y="115.26" width="10.8" height="3.4" fill="#46444a"/>
<rect x="572.8" y="123.58" width="10.8" height="3.4" fill="#46444a"/>
<rect x="572.8" y="131.90" width="10.8" height="3.4" fill="#46444a"/>
<rect x="572.8" y="140.22" width="10.8" height="3.4" fill="#46444a"/>
<rect x="572.8" y="148.54" width="10.8" height="3.4" fill="#46444a"/>
<rect x="572.8" y="156.86" width="10.8" height="3.4" fill="#46444a"/>
<rect x="572.8" y="165.18" width="10.8" height="3.4" fill="#46444a"/>
<rect x="572.8" y="173.50" width="10.8" height="3.4" fill="#46444a"/>
<rect x="572.8" y="181.82" width="10.8" height="3.4" fill="#46444a"/>
<rect x="572.8" y="190.14" width="10.8" height="3.4" fill="#46444a"/>
<rect x="572.8" y="198.46" width="10.8" height="3.4" fill="#46444a"/>
<rect x="572.8" y="206.78" width="10.8" height="3.4" fill="#46444a"/>
<rect x="572.8" y="215.10" width="10.8" height="3.4" fill="#46444a"/>
<rect x="572.8" y="222.6" width="10.8" height="16.6" fill="#4e4c50"/>
<rect x="583.6" y="25" width="3.2" height="215" fill="#d9ac4c"/>
<rect x="583.8" y="25.6" width="1.4" height="4" fill="#f5e6c8"/>
<rect x="586.8" y="25" width="3.4000000000000004" height="215" fill="#f3d29c"/>
<rect x="588.6999999999999" y="25" width="1.5" height="215" fill="#e8c070"/>
<rect x="571.4" y="240" width="2.4" height="50.5" rx="0.8" fill="#d9ad55"/>
<rect x="578.1999999999999" y="242.5" width="1.4" height="48" fill="#e9c070"/>
<rect x="578.1999999999999" y="242.5" width="9" height="13.5" fill="#e6a040"/>
<rect x="579.6" y="242.5" width="4.2" height="48" fill="#e6a040"/>
<rect x="587.6" y="240" width="2.6000000000000014" height="50" fill="#e9c57a"/>
<rect x="574.6" y="281" width="1.8" height="14" fill="#dcdee6"/>
<rect x="584.6999999999999" y="281" width="1.8" height="14" fill="#dcdee6"/>
<polyline points="246.2,269.5 246.2,411.8 586.8,411.8 586.8,296" fill="none" stroke="#b53a36" stroke-width="2.3"/>
<polyline points="419.9,296 419.9,306.5 586.8,306.5" fill="none" stroke="#b53a36" stroke-width="2.3"/>
<line x1="460.5" y1="296" x2="460.5" y2="306.5" stroke="#b53a36" stroke-width="2.3"/>
<line x1="502.5" y1="296" x2="502.5" y2="306.5" stroke="#b53a36" stroke-width="2.3"/>
<line x1="544.6" y1="296" x2="544.6" y2="306.5" stroke="#b53a36" stroke-width="2.3"/>
<line x1="308.3" y1="269.5" x2="308.3" y2="311.2" stroke="#4588c0" stroke-width="2.3"/>
<line x1="320.8" y1="269.5" x2="320.8" y2="334.9" stroke="#4588c0" stroke-width="2.3"/>
<line x1="335.0" y1="269.5" x2="335.0" y2="355.2" stroke="#4588c0" stroke-width="2.3"/>
<line x1="347" y1="269.5" x2="347" y2="376.2" stroke="#4588c0" stroke-width="2.3"/>
<line x1="358.7" y1="269.5" x2="358.7" y2="398.4" stroke="#4588c0" stroke-width="2.3"/>
<line x1="258.6" y1="269.5" x2="258.6" y2="398.4" stroke="#151515" stroke-width="2.4"/>
<polyline points="258.6,311.2 285,311.2" fill="none" stroke="#151515" stroke-width="2.4"/>
<polyline points="307,311.2 410.3,311.2 410.3,296" fill="none" stroke="#151515" stroke-width="2.4"/>
<polyline points="258.6,334.9 285,334.9" fill="none" stroke="#151515" stroke-width="2.4"/>
<polyline points="307,334.9 450.1,334.9 450.1,296" fill="none" stroke="#151515" stroke-width="2.4"/>
<polyline points="258.6,355.2 285,355.2" fill="none" stroke="#151515" stroke-width="2.4"/>
<polyline points="307,355.2 493.0,355.2 493.0,296" fill="none" stroke="#151515" stroke-width="2.4"/>
<polyline points="258.6,376.2 285,376.2" fill="none" stroke="#151515" stroke-width="2.4"/>
<polyline points="307,376.2 535.6,376.2 535.6,296" fill="none" stroke="#151515" stroke-width="2.4"/>
<polyline points="258.6,398.4 285,398.4" fill="none" stroke="#151515" stroke-width="2.4"/>
<polyline points="307,398.4 577.7,398.4 577.7,296" fill="none" stroke="#151515" stroke-width="2.4"/>
<circle cx="258.6" cy="311.2" r="3.9" fill="#151515"/>
<circle cx="308.3" cy="311.2" r="3.9" fill="#151515"/>
<rect x="285.2" y="308.09999999999997" width="18.6" height="6.2" rx="2" fill="#f6e6c2"/>
<rect x="288" y="308.09999999999997" width="2" height="6.2" fill="#dc8444"/>
<rect x="290.7" y="308.09999999999997" width="2.8" height="6.2" fill="#bb6230"/>
<rect x="294" y="308.09999999999997" width="2.4" height="6.2" fill="#e99a4c"/>
<rect x="297" y="308.09999999999997" width="5.6" height="6.2" fill="#f3cd72"/>
<circle cx="258.6" cy="334.9" r="3.9" fill="#151515"/>
<circle cx="320.8" cy="334.9" r="3.9" fill="#151515"/>
<rect x="285.2" y="331.79999999999995" width="18.6" height="6.2" rx="2" fill="#f6e6c2"/>
<rect x="288" y="331.79999999999995" width="2" height="6.2" fill="#dc8444"/>
<rect x="290.7" y="331.79999999999995" width="2.8" height="6.2" fill="#bb6230"/>
<rect x="294" y="331.79999999999995" width="2.4" height="6.2" fill="#e99a4c"/>
<rect x="297" y="331.79999999999995" width="5.6" height="6.2" fill="#f3cd72"/>
<circle cx="258.6" cy="355.2" r="3.9" fill="#151515"/>
<circle cx="335.0" cy="355.2" r="3.9" fill="#151515"/>
<rect x="285.2" y="352.09999999999997" width="18.6" height="6.2" rx="2" fill="#f6e6c2"/>
<rect x="288" y="352.09999999999997" width="2" height="6.2" fill="#dc8444"/>
<rect x="290.7" y="352.09999999999997" width="2.8" height="6.2" fill="#bb6230"/>
<rect x="294" y="352.09999999999997" width="2.4" height="6.2" fill="#e99a4c"/>
<rect x="297" y="352.09999999999997" width="5.6" height="6.2" fill="#f3cd72"/>
<circle cx="258.6" cy="376.2" r="3.9" fill="#151515"/>
<circle cx="347" cy="376.2" r="3.9" fill="#151515"/>
<rect x="285.2" y="373.09999999999997" width="18.6" height="6.2" rx="2" fill="#f6e6c2"/>
<rect x="288" y="373.09999999999997" width="2" height="6.2" fill="#dc8444"/>
<rect x="290.7" y="373.09999999999997" width="2.8" height="6.2" fill="#bb6230"/>
<rect x="294" y="373.09999999999997" width="2.4" height="6.2" fill="#e99a4c"/>
<rect x="297" y="373.09999999999997" width="5.6" height="6.2" fill="#f3cd72"/>
<circle cx="258.6" cy="398.4" r="3.9" fill="#151515"/>
<circle cx="358.7" cy="398.4" r="3.9" fill="#151515"/>
<rect x="285.2" y="395.29999999999995" width="18.6" height="6.2" rx="2" fill="#f6e6c2"/>
<rect x="288" y="395.29999999999995" width="2" height="6.2" fill="#dc8444"/>
<rect x="290.7" y="395.29999999999995" width="2.8" height="6.2" fill="#bb6230"/>
<rect x="294" y="395.29999999999995" width="2.4" height="6.2" fill="#e99a4c"/>
<rect x="297" y="395.29999999999995" width="5.6" height="6.2" fill="#f3cd72"/>
</g>
</svg>
</body></html>
